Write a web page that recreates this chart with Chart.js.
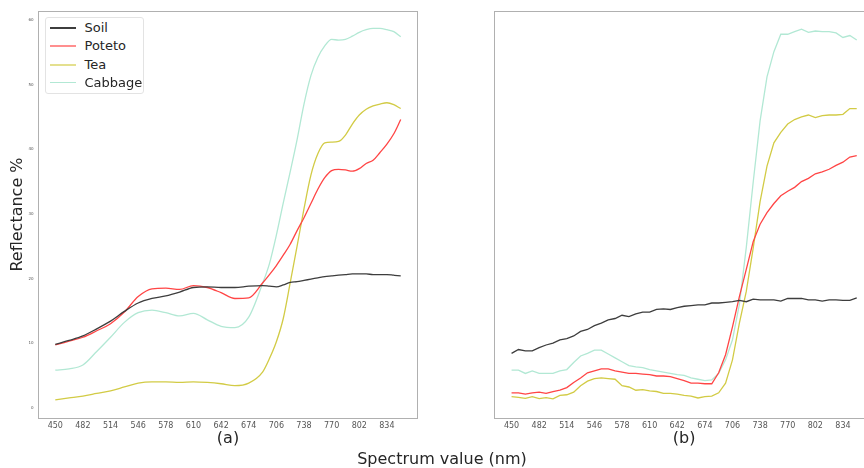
<!DOCTYPE html>
<html>
<head>
<meta charset="utf-8">
<script src="https://cdn.jsdelivr.net/npm/chart.js@4.4.0/dist/chart.umd.min.js"></script>
<style>
  html, body { margin: 0; padding: 0; background: #fff; overflow: hidden; }
  #wrap { position: relative; width: 864px; height: 468px; overflow: hidden; font-family: 'DejaVu Sans', sans-serif; color: #262626; }
  #cA { position: absolute; left: 0; top: 0; }
  #cB { position: absolute; left: 430px; top: 0; }
  #xTitle { position: absolute; left: 342px; width: 200px; top: 449px; line-height: 20px; text-align: center; font-size: 16px; }
  #legend { position: absolute; left: 44.5px; top: 16.5px; width: 99.5px; height: 77px; box-sizing: border-box;
            border: 1px solid #e3e3e3; border-radius: 3px; background: #fff; }
  #legend .row { position: absolute; left: 0; height: 18px; width: 100%; }
  #legend .ln { position: absolute; left: 4px; width: 26px; }
  #legend .lb { position: absolute; left: 39px; top: 0; line-height: 18px; font-size: 13px; white-space: nowrap; }
</style>
</head>
<body>
<div id="wrap">
  <canvas id="cA" width="430" height="468"></canvas>
  <canvas id="cB" width="444" height="468"></canvas>
  <div id="legend"></div>
  <div id="xTitle">Spectrum value (nm)</div>
</div>
<script>
/* series names and colours */
const NAMES = ['Soil', 'Poteto', 'Tea', 'Cabbage'];
const COLORS = ['#3d3d3d', '#ff4545', '#d2cb45', '#b2e8d4'];

/* tick labels */
const X_TICKS = [450, 482, 514, 546, 578, 610, 642, 674, 706, 738, 770, 802, 834];
const Y_TICKS = [0, 10, 20, 30, 40, 50, 60];

/* panel (a): smoothed spectra (16 nm steps, 8 nm past the red edge) */
const bandsA = [450,466,482,498,514,530,546,562,578,594,610,626,642,658,674,690,698,706,714,722,730,738,746,754,762,770,778,786,794,802,810,818,826,834,842,850];
const soilA    = [9.8,10.4,11.1,12.2,13.4,14.9,16.2,16.9,17.3,17.9,18.6,18.7,18.6,18.6,18.8,18.9,18.8,18.7,19.0,19.4,19.5,19.7,19.9,20.1,20.3,20.4,20.5,20.6,20.7,20.7,20.7,20.6,20.6,20.6,20.5,20.4];
const potetoA  = [9.7,10.3,10.9,11.9,13.0,14.8,17.2,18.4,18.5,18.3,18.9,18.6,17.8,16.9,17.0,19.3,20.6,22.0,23.6,25.3,27.4,29.4,31.6,33.8,35.6,36.7,36.9,36.8,36.6,37.0,37.8,38.3,39.5,40.8,42.4,44.6];
const teaA     = [1.2,1.5,1.8,2.2,2.6,3.2,3.8,4.0,4.0,3.9,4.0,3.9,3.7,3.4,3.8,5.5,7.6,10.2,13.8,19.3,25.0,30.8,36.0,39.3,41.0,41.1,41.2,42.2,43.9,45.3,46.2,46.7,47.0,47.2,46.9,46.3];
const cabbageA = [5.8,6.0,6.6,8.7,10.9,13.2,14.7,15.1,14.7,14.2,14.6,13.6,12.6,12.4,14.0,19.2,22.3,26.7,31.7,36.5,41.5,47.0,51.4,54.2,56.0,57.0,56.9,57.0,57.5,58.1,58.5,58.7,58.7,58.5,58.2,57.4];

/* panel (b): raw spectra (8 nm steps) */
const bandsB = [450,458,466,474,482,490,498,506,514,522,530,538,546,554,562,570,578,586,594,602,610,618,626,634,642,650,658,666,674,682,690,698,706,714,722,730,738,746,754,762,770,778,786,794,802,810,818,826,834,842,850];
const soilB    = [8.4,9.0,8.8,8.8,9.3,9.7,10.0,10.5,10.7,11.1,11.8,12.1,12.7,13.1,13.6,13.8,14.3,14.1,14.5,14.8,14.8,15.2,15.3,15.2,15.5,15.7,15.8,15.9,15.9,16.2,16.2,16.3,16.4,16.6,16.4,16.8,16.7,16.7,16.7,16.5,16.9,16.9,16.9,16.7,16.7,16.5,16.7,16.7,16.6,16.6,17.0];
const potetoB  = [2.3,2.3,2.1,2.3,2.4,2.2,2.5,2.7,3.1,3.9,4.6,5.4,5.7,6.0,6.0,5.7,5.5,5.3,5.3,5.2,5.1,4.9,4.9,4.8,4.5,4.2,3.8,3.8,3.7,3.7,5.4,8.2,12.5,17.2,21.4,25.7,28.4,30.2,31.6,32.8,33.5,34.1,35.0,35.5,36.2,36.5,36.9,37.5,38.0,38.8,39.0];
const teaB     = [1.7,1.6,1.45,1.7,1.4,1.55,1.35,1.9,2.0,2.4,3.4,4.1,4.5,4.6,4.5,4.4,3.4,3.2,2.7,2.8,2.6,2.5,2.2,2.2,2.1,1.9,1.8,1.5,1.7,1.8,2.3,3.8,7.4,13.1,18.0,24.7,31.9,37.4,41.0,42.6,43.9,44.6,45.0,45.3,44.9,45.2,45.3,45.3,45.4,46.3,46.3];
const cabbageB = [5.8,5.8,5.3,5.7,5.3,5.3,5.3,5.7,5.9,7.0,8.0,8.4,8.9,8.9,8.3,7.7,7.1,6.5,6.3,6.2,5.9,5.7,5.5,5.3,5.1,5.0,4.6,4.4,4.2,4.3,5.3,7.4,10.5,16.0,24.8,34.9,44.4,51.2,55.1,57.8,57.8,58.2,58.6,58.1,58.3,58.2,58.2,58.0,57.3,57.6,56.9];

const FONT = "'DejaVu Sans', sans-serif";
const INK = '#262626';

/* plot frame (matplotlib spines) */
const framePlugin = {
  id: 'frame',
  afterDraw(chart) {
    const { ctx, chartArea: a } = chart;
    ctx.save();
    ctx.strokeStyle = '#b0b0b0';
    ctx.lineWidth = 1;
    ctx.strokeRect(Math.round(a.left) + 0.5, Math.round(a.top) + 0.5,
                   Math.round(a.right - a.left) - 1, Math.round(a.bottom - a.top));
    ctx.restore();
  }
};

function datasets(bands, series, smooth) {
  return series.map((vals, i) => ({
    label: NAMES[i],
    data: bands.map((b, k) => ({ x: b, y: vals[k] })),
    borderColor: COLORS[i],
    borderWidth: 1.3,
    pointRadius: 0,
    fill: false,
    tension: 0,
    cubicInterpolationMode: smooth ? 'monotone' : 'default',
  }));
}

function makeChart(id, bands, series, opts) {
  return new Chart(document.getElementById(id), {
    type: 'line',
    data: { datasets: datasets(bands, series, opts.smooth) },
    plugins: [framePlugin],
    options: {
      responsive: false,
      animation: false,
      layout: { padding: { top: 11, right: opts.padRight, left: 0, bottom: 0 } },
      plugins: { legend: { display: false }, tooltip: { enabled: false } },
      scales: {
        x: {
          type: 'linear', min: 430, max: 870,
          grid: { display: false, drawTicks: false },
          border: { display: false },
          afterBuildTicks: (s) => { s.ticks = X_TICKS.map((v) => ({ value: v })); },
          afterFit: (s) => { s.height = 50; },
          ticks: { autoSkip: false, maxRotation: 0, padding: 3, color: '#555', font: { family: FONT, size: 8 } },
          title: { display: true, text: opts.sub, color: INK, font: { family: FONT, size: 16 }, padding: { top: 0, bottom: 20 } },
        },
        y: {
          min: -1.6, max: 61.4,
          grid: { display: false, drawTicks: false },
          border: { display: false },
          afterBuildTicks: (s) => { s.ticks = Y_TICKS.map((v) => ({ value: v })); },
          afterFit: (s) => { s.width = opts.yWidth; },
          ticks: { display: opts.showY, padding: 4.5, color: '#555', font: { family: FONT, size: 4 } },
          title: { display: opts.showY, text: 'Reflectance %', color: INK, font: { family: FONT, size: 16 }, padding: { top: 8.4, bottom: 0 } },
        },
      },
    },
  });
}

makeChart('cA', bandsA, [soilA, potetoA, teaA, cabbageA],
  { smooth: true, padRight: 12, yWidth: 38, showY: true, sub: '(a)' });
makeChart('cB', bandsB, [soilB, potetoB, teaB, cabbageB],
  { smooth: false, padRight: 0, yWidth: 64.3, showY: false, sub: '(b)' });

/* legend drawn in the first panel */
const LEGEND_W = [1.2, 2, 2, 1.2];
const LEGEND_A = [1, 0.6, 0.6, 1];
const legend = document.getElementById('legend');
NAMES.forEach((name, i) => {
  const row = document.createElement('div');
  row.className = 'row';
  row.style.top = (1.5 + 18.3 * i) + 'px';
  const ln = document.createElement('span');
  ln.className = 'ln';
  ln.style.top = (9 - LEGEND_W[i] / 2) + 'px';
  ln.style.height = LEGEND_W[i] + 'px';
  ln.style.background = COLORS[i];
  ln.style.opacity = LEGEND_A[i];
  const lb = document.createElement('span');
  lb.className = 'lb';
  lb.textContent = name;
  row.appendChild(ln);
  row.appendChild(lb);
  legend.appendChild(row);
});
</script>
</body>
</html>
